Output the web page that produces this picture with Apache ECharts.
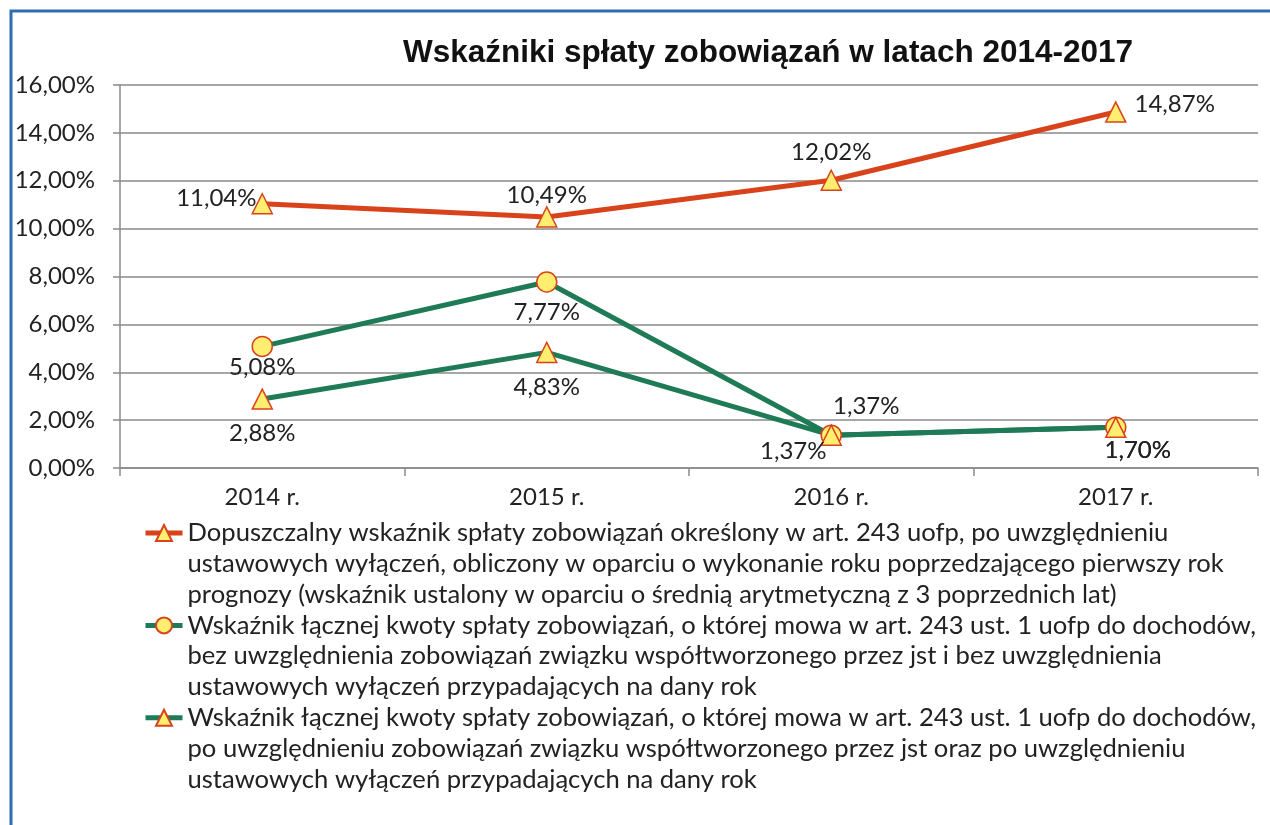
<!DOCTYPE html>
<html>
<head>
<meta charset="utf-8">
<script src="https://cdn.jsdelivr.net/npm/echarts@6/dist/echarts.min.js"></script>
<style>
  html, body { margin: 0; padding: 0; background: #fff; }
  #chart { width: 1270px; height: 825px; }
</style>
</head>
<body>
<div id="chart"></div>
<script>
const years = ['2014 r.', '2015 r.', '2016 r.', '2017 r.']
const dopuszczalny = [11.04, 10.49, 12.02, 14.87]
const bezZwiazku = [5.08, 7.77, 1.37, 1.70]
const poZwiazku = [2.88, 4.83, 1.37, 1.70]
const yTicks = [0, 2, 4, 6, 8, 10, 12, 14, 16]

const names = [
  'Dopuszczalny wskaźnik spłaty zobowiązań określony w art. 243 uofp, po uwzględnieniu\nustawowych wyłączeń, obliczony w oparciu o wykonanie roku poprzedzającego pierwszy rok\nprognozy (wskaźnik ustalony w oparciu o średnią arytmetyczną z 3 poprzednich lat)',
  'Wskaźnik łącznej kwoty spłaty zobowiązań, o której mowa w art. 243 ust. 1 uofp do dochodów,\nbez uwzględnienia zobowiązań związku współtworzonego przez jst i bez uwzględnienia\nustawowych wyłączeń przypadających na dany rok',
  'Wskaźnik łącznej kwoty spłaty zobowiązań, o której mowa w art. 243 ust. 1 uofp do dochodów,\npo uwzględnieniu zobowiązań związku współtworzonego przez jst oraz po uwzględnieniu\nustawowych wyłączeń przypadających na dany rok'
]

const red = '#D8431C'
const green = '#1F7A56'
const yellow = '#FFEE70'
const font = 'Lato, "Open Sans", sans-serif'
const fs = 24
const lh = 30.8

const pct = v => v.toFixed(2).replace('.', ',') + '%'

// label placement per point, as in the picture
function withLabels(values, places) {
  return values.map((v, i) => ({value: v, label: places[i]}))
}

const chart = echarts.init(document.getElementById('chart'))
chart.setOption({
  animation: false,
  backgroundColor: '#fff',
  textStyle: {fontFamily: font},
  title: {
    text: 'Wskaźniki spłaty zobowiązań w latach 2014-2017',
    left: 398,
    top: 32,
    textStyle: {fontFamily: '"Liberation Sans", Arial, sans-serif', fontWeight: 'bold', fontSize: 31.5, color: '#111'}
  },
  graphic: [{
    type: 'rect',
    shape: {x: 11, y: 11, width: 1320, height: 900},
    style: {fill: 'none', stroke: '#2F6CB3', lineWidth: 3},
    silent: true,
    z: 100
  }],
  grid: {left: 120, right: 12, top: 85, bottom: 357},
  legend: {
    orient: 'vertical',
    left: 143,
    top: 456,
    padding: 0,
    itemWidth: 37,
    itemHeight: 20,
    itemGap: -2 * lh,
    selectedMode: false,
    lineStyle: {width: 5},
    // two blank lines on top keep the icon on the first text line
    formatter: name => '\n\n' + name,
    textStyle: {fontFamily: font, fontSize: 25.6, color: '#222', lineHeight: lh},
    data: names
  },
  xAxis: {
    type: 'category',
    data: years,
    boundaryGap: true,
    axisLine: {lineStyle: {color: '#8a8a8a', width: 1.5}},
    axisTick: {show: true, length: 8, lineStyle: {color: '#8a8a8a', width: 1.5}},
    axisLabel: {fontFamily: font, fontSize: fs, color: '#222', margin: 17}
  },
  yAxis: {
    type: 'value',
    min: 0,
    max: 16,
    interval: 2,
    axisLine: {show: true, lineStyle: {color: '#8a8a8a', width: 1.5}},
    axisTick: {show: true, length: 7, lineStyle: {color: '#8a8a8a', width: 1.5}},
    splitLine: {lineStyle: {color: '#8a8a8a', width: 1.5}},
    axisLabel: {
      fontFamily: font, fontSize: fs, color: '#222', margin: 25,
      formatter: v => yTicks.includes(v) ? pct(v) : ''
    }
  },
  series: [
    {
      name: names[0],
      type: 'line',
      data: withLabels(dopuszczalny, [
        {position: 'left', distance: -5, offset: [0, -5]},
        {position: 'top', distance: -1},
        {position: 'top', distance: 5},
        {position: 'right', distance: 8, offset: [0, -8]}
      ]),
      lineStyle: {color: red, width: 5},
      itemStyle: {color: yellow, borderColor: red, borderWidth: 1.5},
      symbol: 'triangle',
      symbolSize: 20,
      label: {show: true, formatter: p => pct(p.value), fontFamily: font, fontSize: fs, color: '#222'},
      z: 3
    },
    {
      name: names[1],
      type: 'line',
      data: withLabels(bezZwiazku, [
        {position: 'bottom', distance: -2},
        {position: 'bottom', distance: 8},
        {position: 'top', distance: 6, offset: [35, 0]},
        {position: 'bottom', distance: 0, offset: [22, 0]}
      ]),
      lineStyle: {color: green, width: 5},
      itemStyle: {color: yellow, borderColor: red, borderWidth: 1.5},
      symbol: 'circle',
      symbolSize: 20,
      label: {show: true, formatter: p => pct(p.value), fontFamily: font, fontSize: fs, color: '#222'},
      z: 2
    },
    {
      name: names[2],
      type: 'line',
      data: withLabels(poZwiazku, [
        {position: 'bottom', distance: 11},
        {position: 'bottom', distance: 12},
        {position: 'bottom', distance: -7, offset: [-38, 0]},
        {position: 'bottom', distance: 0, offset: [22, 0]}
      ]),
      lineStyle: {color: green, width: 5},
      itemStyle: {color: yellow, borderColor: red, borderWidth: 1.5},
      symbol: 'triangle',
      symbolSize: 20,
      label: {show: true, formatter: p => pct(p.value), fontFamily: font, fontSize: fs, color: '#222'},
      z: 2
    }
  ]
})
</script>
</body>
</html>
